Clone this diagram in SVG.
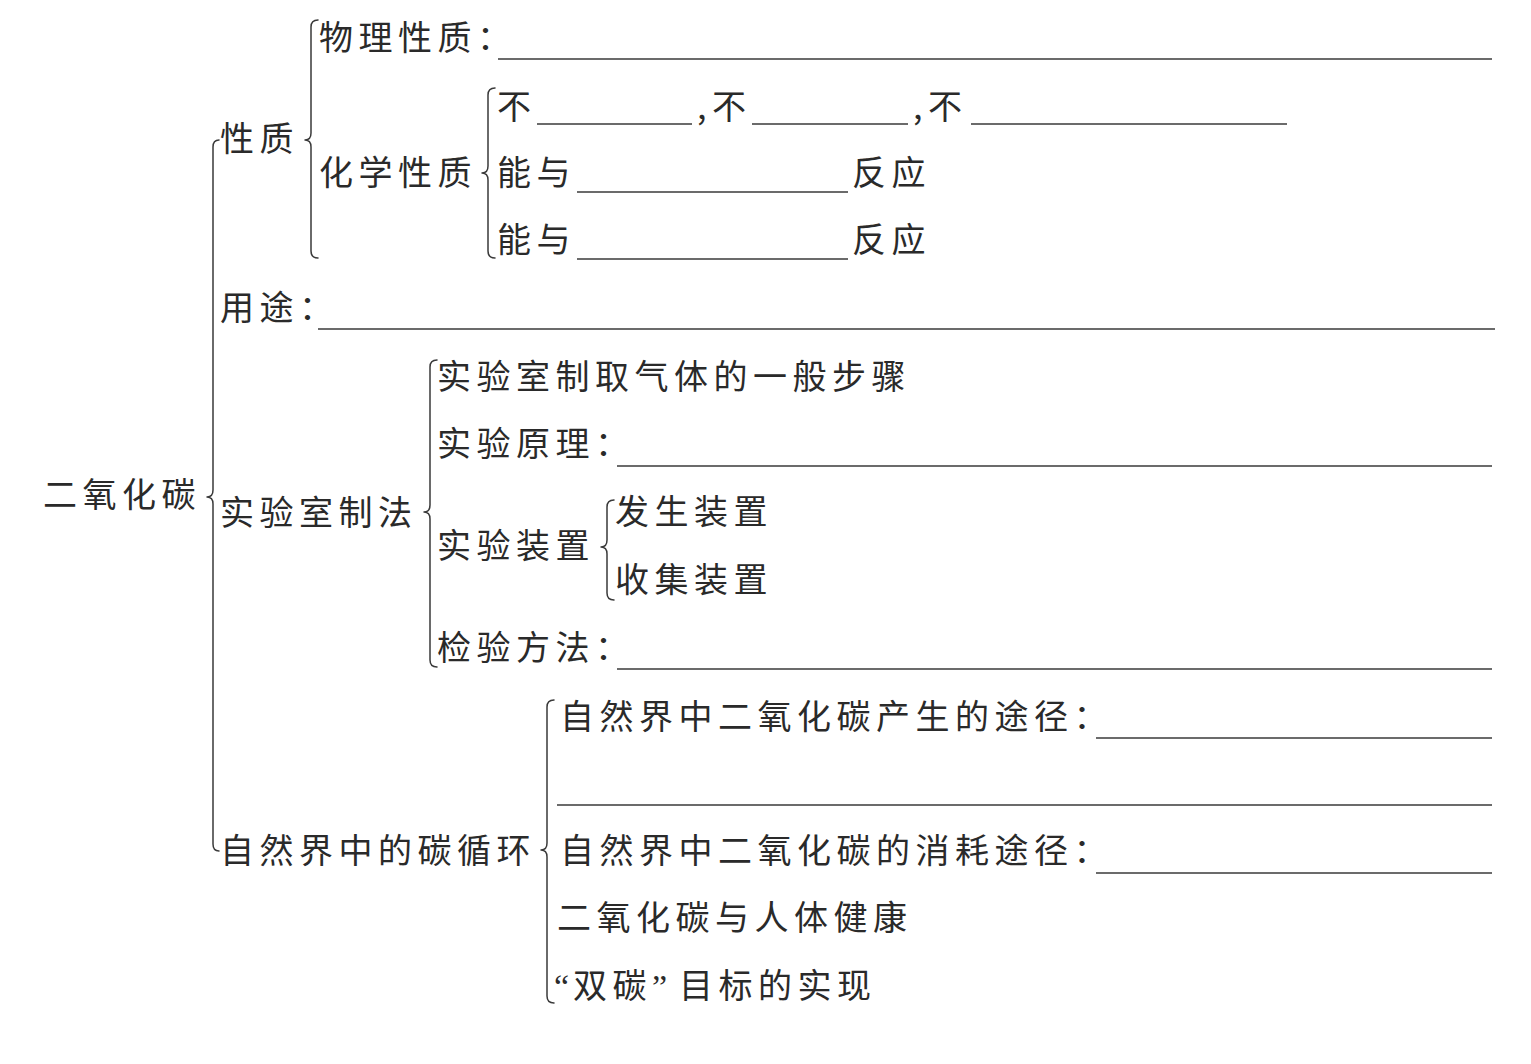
<svg xmlns="http://www.w3.org/2000/svg" width="1531" height="1064" viewBox="0 0 1531 1064">
<style>
text{font-family:"Noto Sans CJK SC","Noto Sans CJK TC",sans-serif;font-size:34px;fill:#2a2a2a;letter-spacing:5.5px}
.q{font-family:"Liberation Serif",serif;letter-spacing:0}
.u{stroke:#3a3a3a;stroke-width:1.5;fill:none}
.b{stroke:#3a3a3a;stroke-width:1.5;fill:none;stroke-linejoin:round;stroke-linecap:round}
</style>
<rect width="1531" height="1064" fill="#ffffff"/>
<g id="connectors">
<path class="b" d="M219 140 Q213 140 213 147 L213 490 Q213 497 207 497 Q213 497 213 504 L213 844 Q213 851 219 851"/>
<path class="b" d="M318 20 Q311 20 311 27 L311 133 Q311 140 305 140 Q311 140 311 147 L311 251 Q311 258 318 258"/>
<path class="b" d="M495 88 Q488 88 488 95 L488 166 Q488 173 482 173 Q488 173 488 180 L488 251 Q488 258 495 258"/>
<path class="b" d="M437 360 Q430 360 430 367 L430 505 Q430 512 424 512 Q430 512 430 519 L430 660 Q430 667 437 667"/>
<path class="b" d="M614 500 Q607 500 607 507 L607 540 Q607 547 601 547 Q607 547 607 554 L607 593 Q607 600 614 600"/>
<path class="b" d="M554 700 Q547 700 547 707 L547 843 Q547 850 541 850 Q547 850 547 857 L547 996 Q547 1003 554 1003"/>
</g>
<g id="root"><text x="43" y="507">二氧化碳</text></g>
<g id="xingzhi"><text x="220" y="151">性质</text></g>
<g id="wuli"><text x="319" y="50">物理性质：</text><line class="u" x1="498" y1="59" x2="1492" y2="59"/></g>
<g id="huaxue"><text x="319" y="185">化学性质</text></g>
<g id="bu"><text y="119"><tspan x="497">不</tspan><tspan x="697">,不</tspan><tspan x="913">,不</tspan></text>
<line class="u" x1="537" y1="124" x2="692" y2="124"/><line class="u" x1="752" y1="124" x2="908" y2="124"/><line class="u" x1="971" y1="124" x2="1287" y2="124"/></g>
<g id="nengyu1"><text y="185"><tspan x="497">能与</tspan><tspan x="852">反应</tspan></text><line class="u" x1="577" y1="192" x2="848" y2="192"/></g>
<g id="nengyu2"><text y="252"><tspan x="497">能与</tspan><tspan x="852">反应</tspan></text><line class="u" x1="577" y1="259" x2="848" y2="259"/></g>
<g id="yongtu"><text x="220" y="320">用途：</text><line class="u" x1="318" y1="329" x2="1495" y2="329"/></g>
<g id="zhifa"><text x="220" y="525">实验室制法</text></g>
<g id="buzhou"><text x="437" y="389">实验室制取气体的一般步骤</text></g>
<g id="yuanli"><text x="437" y="456">实验原理：</text><line class="u" x1="617" y1="466" x2="1492" y2="466"/></g>
<g id="zhuangzhi"><text x="437" y="558">实验装置</text></g>
<g id="fasheng"><text x="615" y="524">发生装置</text></g>
<g id="shouji"><text x="615" y="592">收集装置</text></g>
<g id="jianyan"><text x="437" y="660">检验方法：</text><line class="u" x1="617" y1="669" x2="1492" y2="669"/></g>
<g id="xunhuan"><text x="220" y="863">自然界中的碳循环</text></g>
<g id="chansheng"><text x="560" y="729">自然界中二氧化碳产生的途径：</text><line class="u" x1="1096" y1="738" x2="1492" y2="738"/><line class="u" x1="557" y1="805" x2="1492" y2="805"/></g>
<g id="xiaohao"><text x="560" y="863">自然界中二氧化碳的消耗途径：</text><line class="u" x1="1096" y1="873" x2="1492" y2="873"/></g>
<g id="jiankang"><text x="557" y="930">二氧化碳与人体健康</text></g>
<g id="shuangtan"><text y="998"><tspan class="q" x="554">“</tspan><tspan x="573">双碳</tspan><tspan class="q" x="652">”</tspan><tspan x="679">目标的实现</tspan></text></g>
</svg>
